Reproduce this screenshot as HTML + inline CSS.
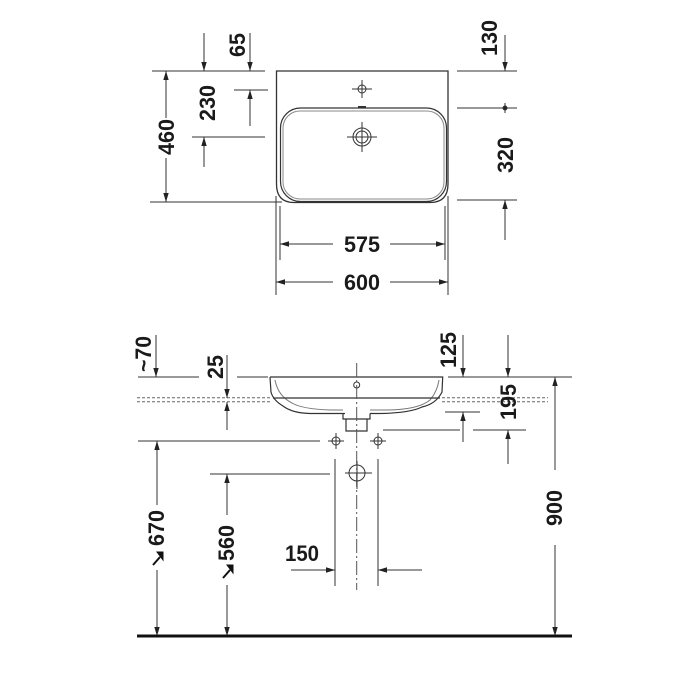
<!DOCTYPE html>
<html><head><meta charset="utf-8"><style>
html,body{margin:0;padding:0;background:#fff;}
svg{display:block}
text{font-family:"Liberation Sans Narrow","Liberation Sans",sans-serif;font-weight:bold;font-size:22px;fill:#1a1a1a;}
</style></head><body>
<svg width="700" height="700" viewBox="0 0 700 700" xmlns="http://www.w3.org/2000/svg">
<defs>
<marker id="a" viewBox="0 0 10 10" refX="10" refY="5" markerWidth="9" markerHeight="9" orient="auto-start-reverse" markerUnits="userSpaceOnUse"><path d="M0,2 L10,5 L0,8 z" fill="#222"/></marker>
</defs>
<g stroke="#333" stroke-width="1" fill="none">
<!-- TOP VIEW -->
<path d="M276.5,71 H448 V184 Q448,202.5 430,202.5 H294 Q276.5,202.5 276.5,184 Z" stroke-width="1.3"/>
<rect x="280.5" y="108" width="166" height="93.5" rx="20" stroke-width="1.2"/>
<rect x="283" y="111" width="161" height="88" rx="17" stroke="#888"/>
<circle cx="362" cy="89" r="4"/>
<path d="M352,89 H372 M362,80 V98"/>
<circle cx="362" cy="137" r="9"/><circle cx="362" cy="137" r="6"/>
<path d="M347,137 H377 M362,122 V152"/>
<path d="M358,107 H366" stroke-width="2"/>
<path d="M152,71 H265 M457,71 H517 M234,90 H268 M192,137 H265 M150,202 H282 M457,108 H517 M457,200 H517"/>
<path d="M280,206 V260 M445,206 V260 M276,196 V295 M448,196 V295"/>
<path d="M204,33 V71" marker-end="url(#a)"/>
<path d="M250,33 V71" marker-end="url(#a)"/>
<path d="M250,126 V90" marker-end="url(#a)"/>
<path d="M204,167 V137" marker-end="url(#a)"/>
<path d="M166,118 V71" marker-end="url(#a)"/><path d="M166,158 V202" marker-end="url(#a)"/>
<path d="M505,35 V71" marker-end="url(#a)"/>
<path d="M505,240 V200" marker-end="url(#a)"/>
<path d="M505,103 V113"/>
<circle cx="505" cy="108" r="2" fill="#222"/>
<path d="M333,244 H280" marker-end="url(#a)"/><path d="M390,244 H445" marker-end="url(#a)"/>
<path d="M333,282 H276" marker-end="url(#a)"/><path d="M390,282 H448" marker-end="url(#a)"/>

<!-- SIDE VIEW -->
<path d="M270,377 H442.7 L442,392 Q436,404 422,407 Q410,413 380,413.5 H370" stroke-width="1.2"/>
<path d="M345,413.5 H310 Q292,413 283,406 Q273,400 271,392 L270,377" stroke-width="1.2"/>
<path d="M275,380 Q278,396 292,403 Q302,409 330,410 H343 M370,410 H385 Q418,410 430,400 Q437,392 439,380" stroke="#777"/>
<path d="M273,398 H440" stroke-width="1.2"/>
<path d="M343,413.5 V419 H370 V413.5 M346,419 V431 H367 V419" stroke-width="1.2"/>
<circle cx="356.7" cy="385" r="3"/>
<path d="M356.7,363 V590" stroke-dasharray="14,3,2,3" stroke="#555"/>
<path d="M137,397.7 H270 M442,397.7 H548 M137,401.7 H270 M442,401.7 H548" stroke-dasharray="3,2" stroke="#666"/>
<path d="M138,377 H199 M237,377 H268 M448,377 H572"/>
<path d="M445,412 H480 M383,430 H460 M473,430 H526"/>
<path d="M138,441 H320 M210,474 H330"/>
<path d="M335,459 V586 M378,459 V586"/>
<circle cx="336" cy="441" r="4"/><path d="M328,441 H344 M336,433 V449"/>
<circle cx="378" cy="441" r="4"/><path d="M370,441 H386 M378,433 V449"/>
<circle cx="357" cy="473" r="8"/><path d="M345,473 H372 M357,461 V489"/>
<path d="M156,335 V377" marker-end="url(#a)"/>
<path d="M227,355 V398" marker-end="url(#a)"/>
<path d="M227,430 V402" marker-end="url(#a)"/>
<path d="M463,335 V377" marker-end="url(#a)"/>
<path d="M508,335 V377" marker-end="url(#a)"/>
<path d="M463,442 V412" marker-end="url(#a)"/>
<path d="M508,464 V430" marker-end="url(#a)"/>
<path d="M555,470 V377" marker-end="url(#a)"/><path d="M555,545 V636" marker-end="url(#a)"/>
<path d="M157,505 V441" marker-end="url(#a)"/><path d="M157,570 V636" marker-end="url(#a)"/>
<path d="M227,515 V474" marker-end="url(#a)"/><path d="M227,585 V636" marker-end="url(#a)"/>
<path d="M291,570 H335" marker-end="url(#a)"/><path d="M422,570 H378" marker-end="url(#a)"/>
<path d="M153,565 L160,557 M223,578 L230,570" stroke="#111" stroke-width="2"/>
</g>
<path d="M157,552 L163,552 L163,560 Z M227,565 L233,565 L233,573 Z" fill="#111" stroke="#111" stroke-width="1"/>
<path d="M137,636 H572" stroke="#111" stroke-width="3"/>
<g>
<text x="362" y="252" text-anchor="middle" textLength="36" lengthAdjust="spacingAndGlyphs">575</text>
<text x="362" y="290" text-anchor="middle" textLength="36" lengthAdjust="spacingAndGlyphs">600</text>
<text x="302" y="561" text-anchor="middle" textLength="34" lengthAdjust="spacingAndGlyphs">150</text>
<text transform="translate(245,45) rotate(-90)" text-anchor="middle" textLength="24" lengthAdjust="spacingAndGlyphs">65</text>
<text transform="translate(215,103) rotate(-90)" text-anchor="middle" textLength="36" lengthAdjust="spacingAndGlyphs">230</text>
<text transform="translate(174,137) rotate(-90)" text-anchor="middle" textLength="36" lengthAdjust="spacingAndGlyphs">460</text>
<text transform="translate(497,38) rotate(-90)" text-anchor="middle" textLength="36" lengthAdjust="spacingAndGlyphs">130</text>
<text transform="translate(513,155) rotate(-90)" text-anchor="middle" textLength="36" lengthAdjust="spacingAndGlyphs">320</text>
<text transform="translate(151,354) rotate(-90)" text-anchor="middle" textLength="36" lengthAdjust="spacingAndGlyphs">~70</text>
<text transform="translate(223,367) rotate(-90)" text-anchor="middle" textLength="24" lengthAdjust="spacingAndGlyphs">25</text>
<text transform="translate(456,350) rotate(-90)" text-anchor="middle" textLength="36" lengthAdjust="spacingAndGlyphs">125</text>
<text transform="translate(516,402) rotate(-90)" text-anchor="middle" textLength="36" lengthAdjust="spacingAndGlyphs">195</text>
<text transform="translate(562,508) rotate(-90)" text-anchor="middle" textLength="36" lengthAdjust="spacingAndGlyphs">900</text>
<text transform="translate(164,528) rotate(-90)" text-anchor="middle" textLength="36" lengthAdjust="spacingAndGlyphs">670</text>
<text transform="translate(234,543) rotate(-90)" text-anchor="middle" textLength="36" lengthAdjust="spacingAndGlyphs">560</text>
</g>
</svg>
</body></html>
